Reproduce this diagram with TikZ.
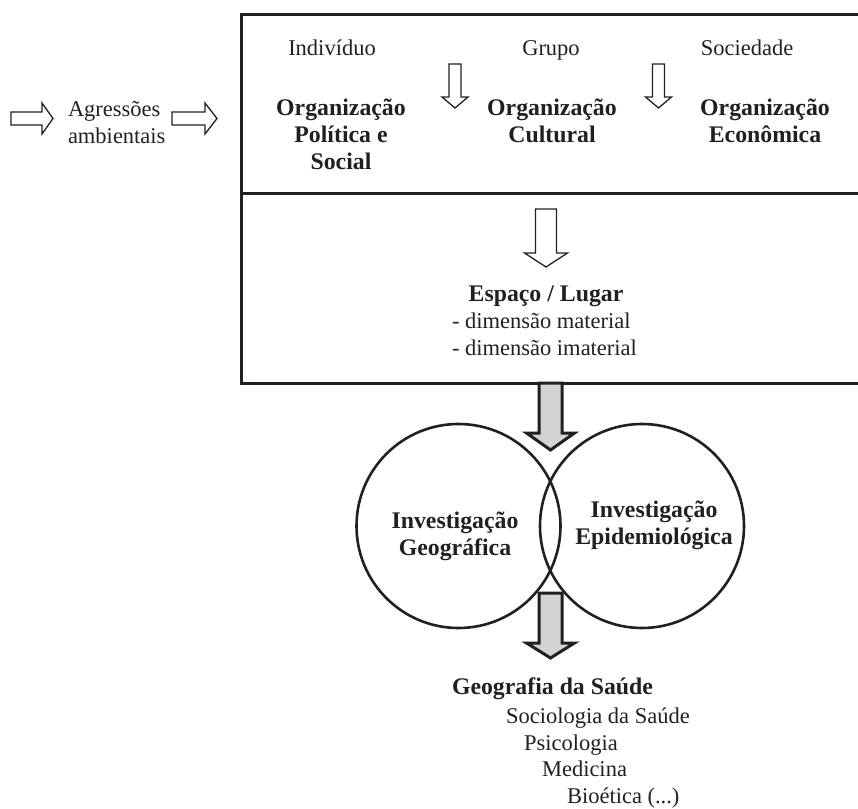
\documentclass[tikz,border=0pt]{standalone}
\usepackage{fontspec}
\setmainfont{Liberation Serif}
\definecolor{ink}{HTML}{231F20}
\definecolor{shade}{HTML}{D1D3D4}
% block arrow pointing down: style, x centre, y top, y head base, y tip, half shaft, half head
\newcommand\blockdown[7]{%
  \draw[#1] ({#2-#6},#3) -- ({#2+#6},#3) -- ({#2+#6},#4) -- ({#2+#7},#4)
    -- (#2,#5) -- ({#2-#7},#4) -- ({#2-#6},#4) -- cycle;}
% block arrow pointing right: style, y centre, x tail, x head base, x tip, half shaft, half head
\newcommand\blockright[7]{%
  \draw[#1] (#3,{#2-#6}) -- (#4,{#2-#6}) -- (#4,{#2-#7}) -- (#5,#2)
    -- (#4,{#2+#7}) -- (#4,{#2+#6}) -- (#3,{#2+#6}) -- cycle;}
\begin{document}
\begin{tikzpicture}[x=1bp,y=-1bp,
  every node/.style={inner sep=0pt, outer sep=0pt, text=ink},
  plain/.style={font=\fontsize{22.5bp}{27bp}\selectfont},
  heavy/.style={font=\fontsize{23.8bp}{27bp}\selectfont\bfseries},
  frame/.style={draw=ink, line width=3bp},
  hollow/.style={draw=ink, line width=1.3bp, fill=white, line join=miter},
  solidarrow/.style={draw=ink, line width=3bp, fill=shade, line join=miter},
  ring/.style={draw=ink, line width=2.6bp, circle, minimum size=204bp}]
\useasboundingbox (0,0) rectangle (858,809);
\clip (0,0) rectangle (858,809);

% input on the left
\blockright{hollow}{118.5}{11}{42}{53}{6.5}{15.5}
\node[plain, anchor=north west, align=left] (agr) at (68,97.1) {\strut Agressões\\ambientais};
\blockright{hollow}{118.5}{172}{205}{217}{6.5}{15.5}

% the framed block, open to the right
\draw[frame] (870,15) -- (241,15) -- (241,383) -- (870,383);
\draw[frame] (241,193) -- (870,193);

% upper compartment
\node[plain, anchor=base] (ind) at (332,56) {Indivíduo};
\node[plain, anchor=base] (gru) at (551,56) {Grupo};
\node[plain, anchor=base] (soc) at (747,56) {Sociedade};
\node[heavy, anchor=north, align=center] (orgpol) at (341,96.6) {\strut Organização\\Política e\\Social};
\node[heavy, anchor=north, align=center] (orgcul) at (552,96.6) {\strut Organização\\Cultural};
\node[heavy, anchor=north, align=center] (orgeco) at (765,96.6) {\strut Organização\\Econômica};
\blockdown{hollow}{455}{64}{97}{108}{6}{13}
\blockdown{hollow}{658.5}{64}{97}{108}{6}{13}

% lower compartment
\blockdown{hollow}{546}{209}{253}{267}{10.5}{21.5}
\node[heavy, anchor=base] (esp) at (546,301) {Espaço / Lugar};
\node[plain, anchor=north west, align=left] (dim) at (452,309.1) {\strut - dimensão material\\- dimensão imaterial};

% the two overlapping fields of investigation
\node[ring] (geo) at (458.5,526) {};
\node[ring] (epi) at (642,526) {};
\node[heavy, anchor=north, align=center] (geotxt) at (455,509.1) {\strut Investigação\\Geográfica};
\node[heavy, anchor=north, align=center] (epitxt) at (654,498.1) {\strut Investigação\\Epidemiológica};

% shaded flow arrows
\blockdown{solidarrow}{550.5}{383}{433}{450}{11.5}{24}
\blockdown{solidarrow}{550.5}{593}{643}{658}{11.5}{24}

% resulting disciplines
\node[heavy, anchor=base west] (gs) at (452,694) {Geografia da Saúde};
\node[plain, anchor=base west] (soci) at (506,723) {Sociologia da Saúde};
\node[plain, anchor=base west] (psi) at (524,750) {Psicologia};
\node[plain, anchor=base west] (med) at (542,776) {Medicina};
\node[plain, anchor=base west] (bio) at (567,803) {Bioética (...)};
\end{tikzpicture}
\end{document}
